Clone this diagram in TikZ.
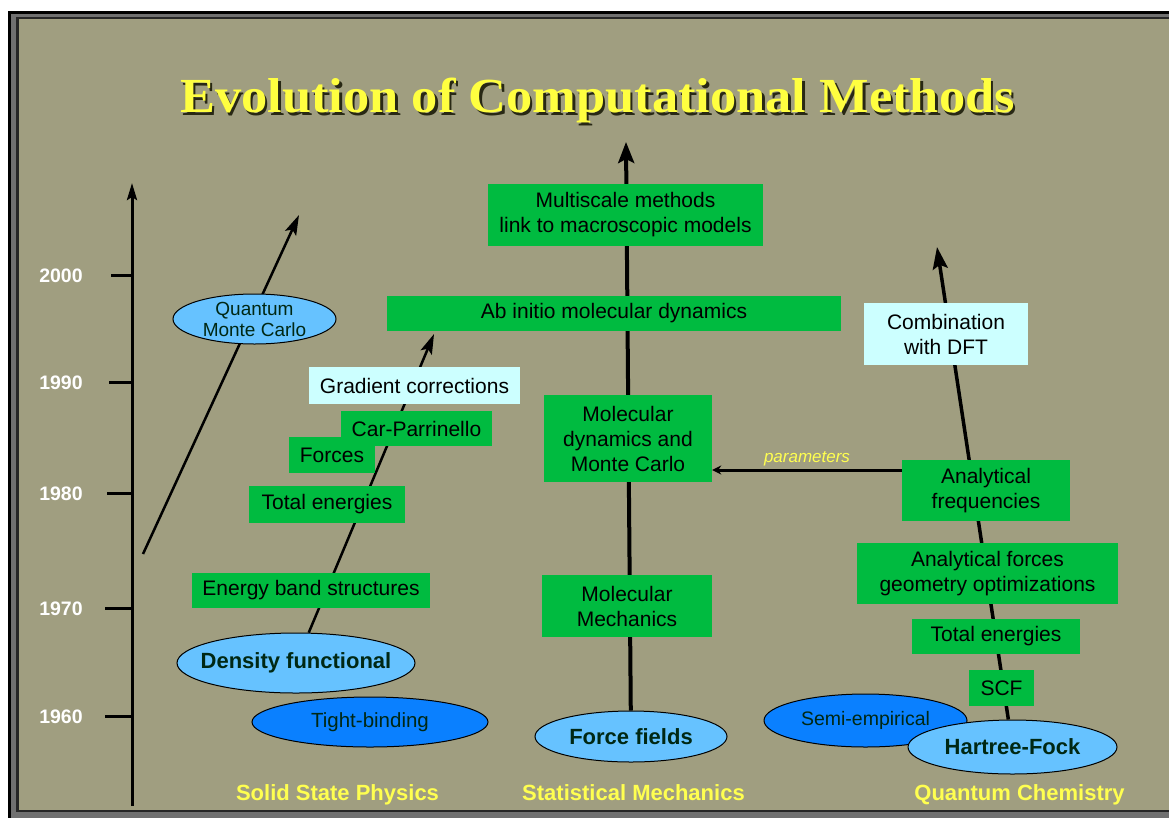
\documentclass[tikz,border=0pt]{standalone}
\usepackage{fontspec}
\setmainfont{Liberation Sans}
\newfontfamily\titlefont{Liberation Serif}
\usepackage{graphicx}
\usetikzlibrary{arrows.meta,shapes.geometric,backgrounds}
\definecolor{bgcol}{RGB}{160,158,128}
\definecolor{framegray}{RGB}{112,112,112}
\definecolor{boxgreen}{RGB}{0,187,64}
\definecolor{cyanbox}{RGB}{204,255,255}
\definecolor{lblue}{RGB}{102,194,255}
\definecolor{dblue}{RGB}{10,128,255}
\definecolor{etext}{RGB}{0,40,20}
\definecolor{fyellow}{RGB}{255,255,80}
\definecolor{tyellow}{RGB}{255,255,64}
\definecolor{tshadow}{RGB}{40,40,20}
\pgfdeclarelayer{bg}
\pgfdeclarelayer{lines}
\pgfsetlayers{bg,lines,main}
\newcommand{\titletext}{\scalebox{1.07}[1]{Evolution of Computational Methods}}

\begin{document}
\begin{tikzpicture}[x=1pt,y=-1pt]

\tikzstyle{gbox}=[rectangle, fill=boxgreen, inner sep=0pt, align=center, font=\fontsize{21}{25}\selectfont]
\tikzstyle{cbox}=[gbox, fill=cyanbox]
\tikzstyle{ell}=[ellipse, draw=black, line width=1pt, fill=lblue, inner sep=-20pt, align=center, text=etext, font=\fontsize{22}{26}\selectfont\bfseries]
\tikzstyle{dell}=[ell, fill=dblue, font=\fontsize{20.5}{22}\selectfont]
\tikzstyle{year}=[anchor=base, text=white, font=\fontsize{19.5}{20}\selectfont\bfseries]
\tikzstyle{field}=[anchor=base, text=fyellow, font=\fontsize{22}{24}\selectfont\bfseries]
\tikzstyle{title}=[anchor=base, font=\titlefont\fontsize{49}{49}\selectfont\bfseries]
\tikzstyle{arrow}=[-{Stealth[length=20pt,width=12pt,inset=4pt]}, line width=2.5pt]
\tikzstyle{tick}=[line width=3pt]

\useasboundingbox (0,0) rectangle (1169,817);
\begin{pgfonlayer}{bg}
\fill[black] (8,11) rectangle (1190,840);
\fill[framegray] (11,14) rectangle (1190,840);
\fill[black!85] (16,17) rectangle (1185,812);
\fill[bgcol] (19,19) rectangle (1185,810);
\end{pgfonlayer}

\node (T) [title, text=tyellow] at (597.5,112) {\makebox[0pt][l]{\hspace{2.5pt}\raisebox{-3pt}{\textcolor{tshadow}{\titletext}}}\titletext};

% solid state physics
\node (QMC) [ell, font=\fontsize{19}{21}\selectfont] at (254.5,319) [minimum width=163, minimum height=50] {Quantum\\Monte Carlo};
\node (EBS) [gbox, minimum width=238, minimum height=35] at (311,590.5) {Energy band structures};
\node (TE1) [gbox, minimum width=156, minimum height=37] at (327,504.5) {Total energies};
\node (FO) [gbox, minimum width=86, minimum height=36] at (332,455) {Forces};
\node (CP) [gbox, minimum width=151, minimum height=35] at (416.5,428.5) {Car-Parrinello};
\node (GC) [cbox, minimum width=211, minimum height=37] at (414.5,385.5) {Gradient corrections};
\node (DF) [ell, minimum width=238, minimum height=60] at (296,663) {Density functional};
\node (TB) [dell, minimum width=236, minimum height=50] at (370,722) {Tight-binding};

% statistical mechanics
\node (AI) [gbox, minimum width=454, minimum height=35] at (614,313.5) {Ab initio molecular dynamics};
\node (MS) [gbox, minimum width=275, minimum height=62] at (625.5,215) {Multiscale methods\\link to macroscopic models};
\node (MD) [gbox, minimum width=168, minimum height=87] at (628,438.5) {Molecular\\dynamics and\\Monte Carlo};
\node (MM) [gbox, minimum width=170, minimum height=62] at (627,606) {Molecular\\Mechanics};
\node (FF) [ell, minimum width=192, minimum height=51] at (631,736.5) {Force fields};

% quantum chemistry
\node (CW) [cbox, minimum width=164, minimum height=62] at (946,334) {Combination\\with DFT};
\node (AF) [gbox, minimum width=168, minimum height=61] at (986,490.5) {Analytical\\frequencies};
\node (AFG) [gbox, minimum width=261, minimum height=61] at (987.5,573.5) {Analytical forces\\geometry optimizations};
\node (TE2) [gbox, minimum width=168, minimum height=35] at (996,636.5) {Total energies};
\node (SCF) [gbox, minimum width=65, minimum height=36] at (1001.5,688) {SCF};
\node (SE) [dell, font=\fontsize{19.5}{22}\selectfont, minimum width=203, minimum height=53] at (865.5,720.5) {Semi-empirical};
\node (HF) [ell, minimum width=209, minimum height=54] at (1012.5,747) {Hartree-Fock};

\node (SSP) [field] at (337.5,800) {Solid State Physics};
\node (SM) [field] at (633.5,800) {Statistical Mechanics};
\node (QC) [field] at (1019.5,800) {Quantum Chemistry};

\coordinate (AX0) at (132,806);
\coordinate (AX1) at (132,183);
\coordinate (Q0) at (143,554);
\coordinate (Q1) at (299,215);
\coordinate (S1) at (434,334);
\coordinate (C1) at (626,142);
\coordinate (R1) at (937,247);

\begin{pgfonlayer}{lines}
\draw [tick, -{Stealth[length=17pt,width=10pt,inset=3pt]}] (AX0) -- (AX1);
\foreach \yr/\py/\tx in {2000/275/111, 1990/382/109, 1980/493/107, 1970/608/105, 1960/716/105} {
  \draw [tick] (\tx,\py) -- (AX0 |- 0,\py);
  \node (Y\yr) [year] at (61,\py+7) {\yr};
}
\draw [arrow] (Q0) -- (Q1);
\draw [arrow] (DF) -- (S1);
\draw [arrow, line width=4pt, -{Stealth[length=21pt,width=16pt,inset=4pt]}] (FF) -- (C1);
\draw [arrow, line width=3.5pt, -{Stealth[length=22pt,width=15pt,inset=4pt]}] (HF) -- (R1);
\draw [line width=3pt, -{Stealth[length=9pt,width=9pt]}] (AF.west |- 0,470) -- node [above=-1pt, text=fyellow, font=\fontsize{17}{17}\selectfont\itshape] {parameters} (MD.east |- 0,470);
\end{pgfonlayer}

\end{tikzpicture}
\end{document}
